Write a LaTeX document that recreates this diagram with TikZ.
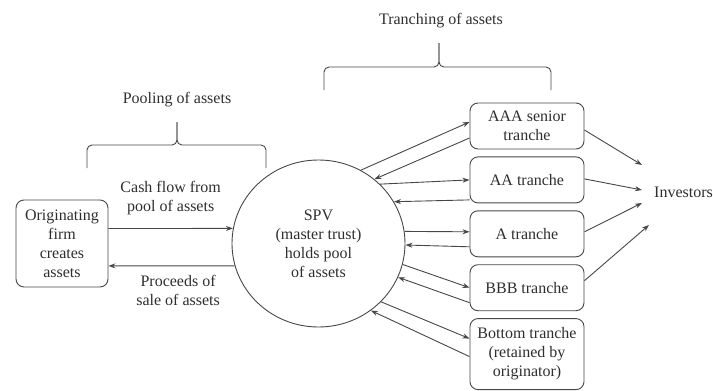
\documentclass[tikz,border=0pt]{standalone}
\usepackage{fontspec}
\setmainfont{Liberation Serif}
\usetikzlibrary{positioning,arrows.meta,shapes.geometric}
\definecolor{cLine}{HTML}{474747}
\definecolor{cText}{HTML}{2E2E2E}
\tikzset{
  base/.style={font=\fontsize{16}{19}\selectfont,text=cText,align=center},
  box/.style={base,draw=cLine,rounded corners=8pt,line width=0.9pt,inner sep=5pt},
  tbox/.style={box,minimum width=114pt,minimum height=46pt},
  pool/.style={base,ellipse,draw=cLine,line width=0.9pt,minimum width=173pt,minimum height=167pt,inner sep=0pt},
  lbl/.style={base,inner sep=2pt},
  arr/.style={-{Stealth[length=7pt,width=5pt]},draw=cLine,line width=0.9pt},
  brc/.style={draw=cLine,line width=0.9pt,rounded corners=5pt}}

\begin{document}
\begin{tikzpicture}[x=1pt,y=-1pt]
\useasboundingbox (0,0) rectangle (713,391);
\node[box,minimum width=92pt,minimum height=87pt] (firm) at (62,243.5) {Originating\\firm\\creates\\assets};
\node[pool] (spv) at (318.5,243.5) {SPV\\(master trust)\\holds pool\\of assets};
\node[tbox] (tAAA) at (527,126) {AAA senior\\tranche};
\node[tbox, below=7pt of tAAA] (tAA) {AA tranche};
\node[tbox, below=7pt of tAA] (tA) {A tranche};
\node[tbox, below=7pt of tA] (tBBB) {BBB tranche};
\node[tbox, below=7pt of tBBB, minimum height=71pt] (tBot) {Bottom tranche\\(retained by\\originator)};
\node[lbl] (inv) at (683.5,192) {Investors};
\node[lbl] (pooling) at (177,100) {Pooling of assets};
\node[lbl] (tranching) at (441,21) {Tranching of assets};
% braces
\draw[brc] (87,168) |- (177,145) -- (177,122);
\draw[brc] (266,168) |- (177,145) -- (177,122);
\draw[brc] (324,90) |- (439,67) -- (439,43);
\draw[brc] (551,90) |- (439,67) -- (439,43);
% firm and SPV
\draw[arr] ([yshift=15pt]firm.east) -- (spv.170) node[lbl,midway,above=11pt] {Cash flow from\\pool of assets};
\draw[arr] (spv.195) -- ([yshift=-22.4pt]firm.east) node[lbl,midway,below=7pt,xshift=6.5pt] {Proceeds of\\sale of assets};
% SPV and tranches
\draw[arr] (spv.60) -- ([yshift=4pt]tAAA.west);
\draw[arr] ([yshift=-12pt]tAAA.west) -- (spv.49.6);
\draw[arr] (spv.44) -- ([yshift=0pt]tAA.west);
\draw[arr] ([yshift=-20pt]tAA.west) -- (spv.29);
\draw[arr] (spv.8.9) -- ([yshift=2pt]tA.west);
\draw[arr] ([yshift=-13pt]tA.west) -- (spv.-1);
\draw[arr] (spv.-14) -- (tBBB.west);
\draw[arr] ([yshift=-15pt]tBBB.west) -- (spv.-23.6);
\draw[arr] (spv.-43) -- ([yshift=15.5pt]tBot.west);
\draw[arr] ([yshift=-2.5pt]tBot.west) -- (spv.-52.5);
% tranches and investors
\draw[arr] ([yshift=-4pt]tAAA.east) -- ([xshift=-10pt,yshift=27pt]inv.west);
\draw[arr] ([yshift=1pt]tAA.east) -- ([xshift=-10pt,yshift=2pt]inv.west);
\draw[arr] ([yshift=2pt]tA.east) -- ([xshift=-10pt,yshift=-11pt]inv.west);
\draw[arr] ([yshift=7pt]tBBB.east) -- ([xshift=-3pt,yshift=-33pt]inv.west);
\end{tikzpicture}
\end{document}
